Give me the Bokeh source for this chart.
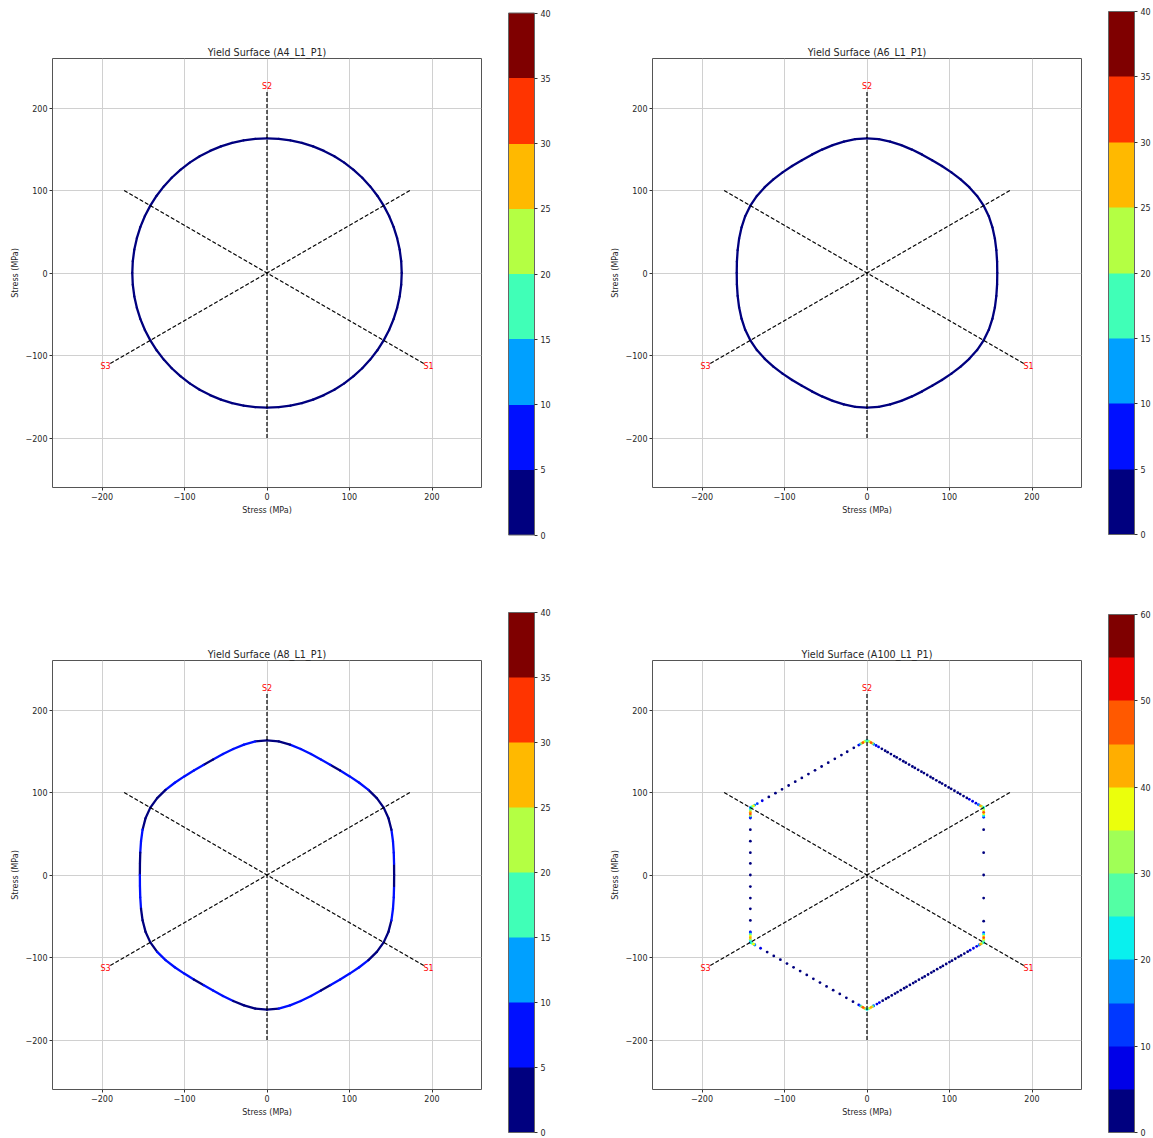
import numpy as np
from bokeh.plotting import figure
from bokeh.models import (Range1d, FixedTicker, ColumnDataSource, LinearColorMapper, ColorBar)
from bokeh.layouts import row, column
from bokeh.embed import file_html
from bokeh.resources import INLINE
from bokeh.core.properties import value
from bokeh.transform import transform

FONT = "DejaVu Sans"

# ---------------- data ----------------
titles = ["Yield Surface (A4_L1_P1)", "Yield Surface (A6_L1_P1)",
          "Yield Surface (A8_L1_P1)", "Yield Surface (A100_L1_P1)"]

axis_names = ["S1", "S2", "S3"]
axis_angle_deg = [-30, 90, 210]

# radius (MPa) of each surface versus angle from a flat (0 deg) to a vertex (30 deg)
sector_deg = [0, 5, 10, 15, 20, 25, 30]
r_a4 = [163.3, 163.3, 163.3, 163.3, 163.3, 163.3, 163.3]
r_a6 = [157.9, 158.3, 159.2, 160.5, 161.8, 162.9, 163.3]
r_a8 = [154.1, 154.6, 156.0, 158.1, 160.5, 162.5, 163.3]

# polar angles of the drawn curve (deg)
curve_deg = list(range(0, 365, 5))

# colour value of each 5-deg piece of the curve
val_a4 = [3] * 72
val_a6 = [3] * 72
val_a8 = [4, 6, 6, 6, 4, 4, 4, 4, 6, 6, 6, 4, 6, 6, 6, 6, 4, 4,
          4, 6, 6, 6, 6, 4, 6, 6, 6, 6, 4, 4, 4, 4, 6, 6, 4, 4,
          6, 6, 6, 4, 4, 4, 4, 6, 6, 6, 6, 4, 6, 6, 6, 4, 4, 4,
          4, 6, 6, 6, 6, 4, 6, 6, 6, 6, 4, 4, 4, 4, 6, 6, 6, 4]

# A100 scatter points (MPa) and their colour values
ul_x = [-10, -16, -24, -31, -39, -47, -55, -63, -71, -79, -87, -95, -103, -111, -119, -127, -133]
ul_y = [157.5, 154.1, 149.4, 145.4, 140.8, 136.2, 131.5, 126.9, 122.3, 117.7, 113.1, 108.5,
        103.8, 99.2, 94.6, 90.0, 86.5]
ul_v = [8, 4, 4, 4, 4, 4, 4, 4, 4, 4, 4, 4, 4, 4, 4, 7, 12]

ur_x = [8, 11, 14, 18, 22, 25, 29, 33, 36, 40, 44, 47, 51, 55, 58, 62, 66, 69, 73, 77, 80, 84,
        88, 91, 95, 99, 102, 106, 110, 113, 117, 121, 124, 128, 132, 135]
ur_y = [158.7, 157.0, 155.2, 152.9, 150.6, 148.9, 146.6, 144.2, 142.5, 140.2, 137.9, 136.2,
        133.9, 131.5, 129.8, 127.5, 125.2, 123.5, 121.2, 118.8, 117.1, 114.8, 112.5, 110.8,
        108.5, 106.1, 104.4, 102.1, 99.8, 98.1, 95.7, 93.4, 91.7, 89.4, 87.1, 85.3]
ur_v = [8, 7, 6, 4, 4, 4, 4, 4, 4, 4, 4, 4, 4, 4, 4, 4, 4, 4, 4, 4, 4, 4, 4, 4, 4, 4, 4, 4,
        4, 4, 4, 4, 6, 7, 9, 12]

rv_x = [141.4, 141.4, 141.4, 141.4, 141.4]
rv_y = [55, 27, 0, -28, -56]
rv_v = [4, 4, 4, 4, 4]

lv_x = [-141.4, -141.4, -141.4, -141.4, -141.4, -141.4, -141.4, -141.4, -141.4, -141.4, -141.4]
lv_y = [69, 55, 41, 27, 14, 0, -14, -28, -41, -55, -69]
lv_v = [8, 4, 4, 4, 4, 4, 4, 4, 4, 4, 8]

ll_x = [-136, -129, -121, -113, -105, -97, -89, -81, -73, -65, -57, -49, -41, -33, -25, -17, -10]
ll_y = [-84.8, -88.8, -93.4, -98.1, -102.7, -107.3, -111.9, -116.5, -121.1, -125.8, -130.4,
        -135.0, -139.6, -144.2, -148.9, -153.5, -157.5]
ll_v = [12, 7, 4, 4, 4, 4, 4, 4, 4, 4, 4, 4, 4, 4, 4, 4, 8]

lr_x = [8, 12, 15, 19, 23, 26, 30, 34, 37, 41, 45, 48, 52, 56, 59, 63, 67, 70, 74, 78, 81, 85,
        89, 92, 96, 100, 103, 107, 111, 114, 118, 122, 125, 129, 133, 136]
lr_y = [-158.7, -156.4, -154.6, -152.3, -150.0, -148.3, -146.0, -143.7, -141.9, -139.6, -137.3,
        -135.6, -133.3, -131.0, -129.2, -126.9, -124.6, -122.9, -120.6, -118.3, -116.5, -114.2,
        -111.9, -110.2, -107.9, -105.6, -103.8, -101.5, -99.2, -97.5, -95.2, -92.9, -91.1,
        -88.8, -86.5, -84.8]
lr_v = [8, 7, 6, 4, 4, 4, 4, 4, 4, 4, 4, 4, 4, 4, 4, 4, 4, 4, 4, 4, 4, 4, 4, 4, 4, 4, 4, 4,
        4, 4, 4, 4, 6, 7, 9, 12]

# points bunched around the six corners
cx = [-8, -6.5, -5, -3.5, -2, 0, 2, 3.5, 5, 6.5, 8,
      -8, -6.5, -5, -3.5, -2, 0, 2, 3.5, 5, 6.5, 8,
      136, 137.5, 139, 140.5, 141.4, 141.4, 141.4, 141.4, 141.4, 141.4, 141.4,
      136, 137.5, 139, 140.5, 141.4, 141.4, 141.4, 141.4, 141.4, 141.4, 141.4,
      -136, -137.5, -139, -140.5, -141.4, -141.4, -141.4, -141.4, -141.4, -141.4, -141.4,
      -136, -137.5, -139, -140.5, -141.4, -141.4, -141.4, -141.4, -141.4, -141.4, -141.4]
cy = [158.7, 159.5, 160.4, 161.3, 162.1, 163.0, 162.1, 161.3, 160.4, 159.5, 158.7,
      -158.7, -159.5, -160.4, -161.3, -162.1, -163.0, -162.1, -161.3, -160.4, -159.5, -158.7,
      84.8, 83.9, 83.0, 82.2, 81.6, 80, 78, 76, 74, 72, 70,
      -84.8, -83.9, -83.0, -82.2, -81.6, -80, -78, -76, -74, -72, -70,
      84.8, 83.9, 83.0, 82.2, 81.6, 80, 78, 76, 74, 72, 70,
      -84.8, -83.9, -83.0, -82.2, -81.6, -80, -78, -76, -74, -72, -70]
cv = [16, 32, 47, 38, 27, 22, 27, 38, 45, 30, 16,
      16, 34, 48, 40, 28, 22, 26, 36, 44, 30, 16,
      18, 42, 32, 22, 20, 25, 35, 45, 38, 24, 12,
      18, 42, 32, 22, 20, 25, 35, 45, 38, 24, 12,
      16, 37, 28, 20, 8, 22, 32, 40, 45, 30, 12,
      16, 38, 28, 20, 8, 22, 30, 42, 36, 26, 12]

ticks_40 = [0, 5, 10, 15, 20, 25, 30, 35, 40]
ticks_60 = [0, 10, 20, 30, 40, 50, 60]

jet8 = ["#00007f", "#0010ff", "#00a0ff", "#40ffb7", "#b4ff43", "#ffb900", "#ff3400", "#7f0000"]
jet12 = ["#00007f", "#0000e8", "#0038ff", "#0094ff", "#09f0ee", "#53ffa4",
         "#a0ff56", "#ebff0c", "#ffae00", "#ff5900", "#ed0400", "#7f0000"]

ticks_main = [-200, -100, 0, 100, 200]
tick_text = {-200: "\u2212200", -100: "\u2212100", 0: "0", 100: "100", 200: "200"}

TXT = "#262626"


def make_main(title, rb, tb, bb):
    p = figure(frame_width=429, frame_height=429,
               x_range=Range1d(-260, 260), y_range=Range1d(-260, 260),
               output_backend="svg", toolbar_location=None, tools="",
               min_border_left=52, min_border_right=rb, min_border_top=tb, min_border_bottom=bb,
               title=title)
    p.title.text_font = FONT
    p.title.text_font_size = "9.6px"
    p.title.text_font_style = "normal"
    p.title.text_color = TXT
    p.title.align = "center"
    p.title.standoff = 2
    for ax in (p.xaxis[0], p.yaxis[0]):
        ax.ticker = FixedTicker(ticks=ticks_main)
        ax.major_label_overrides = tick_text
        ax.axis_label = "Stress (MPa)"
        ax.axis_label_text_font = FONT
        ax.axis_label_text_font_size = "8px"
        ax.axis_label_text_font_style = "normal"
        ax.axis_label_text_color = TXT
        ax.axis_label_standoff = 3
        ax.major_label_text_font = FONT
        ax.major_label_text_font_size = "8px"
        ax.major_label_text_color = TXT
        ax.major_label_standoff = 2
        ax.major_tick_out = 3
        ax.major_tick_in = 0
        ax.major_tick_line_color = "#333333"
        ax.minor_tick_line_color = None
        ax.axis_line_color = None
    p.grid.grid_line_color = "#d0d0d0"
    p.grid.grid_line_width = 1
    p.outline_line_color = "#555555"
    p.outline_line_width = 1
    p.background_fill_color = "white"
    p.border_fill_color = "white"
    return p


def add_axes_overlay(p):
    ang = np.radians(axis_angle_deg)
    p.segment(x0=-200 * np.cos(ang), y0=-200 * np.sin(ang),
              x1=220 * np.cos(ang), y1=220 * np.sin(ang),
              line_color="black", line_width=1.2, line_dash="4 2")
    p.text(x=226 * np.cos(ang), y=226 * np.sin(ang), text=axis_names,
           text_color="red", text_font=value(FONT), text_font_size="8px",
           text_align="center", text_baseline="middle")


def add_curve(p, profile, vals, mapper):
    lookup = dict(zip(sector_deg, profile))
    deg = np.array(curve_deg)
    phi = np.mod(deg, 60)
    phi = np.where(phi > 30, 60 - phi, phi)
    r = np.array([lookup[int(f)] for f in phi])
    th = np.radians(deg)
    x = r * np.cos(th)
    y = r * np.sin(th)
    src = ColumnDataSource(dict(x0=x[:-1], y0=y[:-1], x1=x[1:], y1=y[1:], v=vals))
    p.segment(x0="x0", y0="y0", x1="x1", y1="y1", source=src,
              line_color=transform("v", mapper), line_width=2.3, line_cap="round")


def add_cbar(p, mapper, ticks, loc, h):
    cb = ColorBar(color_mapper=mapper, ticker=FixedTicker(ticks=ticks),
                  width=26, height=h, location=loc, orientation="vertical",
                  padding=0, margin=0,
                  bar_line_color="#666666", bar_line_width=1,
                  border_line_color=None, background_fill_color=None,
                  major_tick_out=3, major_tick_in=0, major_tick_line_color="#333333",
                  minor_tick_line_color=None, label_standoff=3,
                  major_label_text_font=FONT, major_label_text_font_size="8px",
                  major_label_text_color=TXT)
    p.add_layout(cb, "center")


m40 = LinearColorMapper(palette=jet8, low=0, high=40)
m60 = LinearColorMapper(palette=jet12, low=0, high=60)

# top-left: A4
p1 = make_main(titles[0], 119, 58, 113)
add_curve(p1, r_a4, val_a4, m40)
add_axes_overlay(p1)
add_cbar(p1, m40, ticks_40, (456, -47.5), 522)

# top-right: A6
p2 = make_main(titles[1], 72, 58, 113)
add_curve(p2, r_a6, val_a6, m40)
add_axes_overlay(p2)
add_cbar(p2, m40, ticks_40, (456, -47), 523)

# bottom-left: A8
p3 = make_main(titles[2], 119, 60, 49)
add_curve(p3, r_a8, val_a8, m40)
add_axes_overlay(p3)
add_cbar(p3, m40, ticks_40, (456, -43), 520)

# bottom-right: A100 scatter
p4 = make_main(titles[3], 72, 60, 49)
ax_ = ul_x + ur_x + rv_x + lv_x + ll_x + lr_x + cx
ay_ = ul_y + ur_y + rv_y + lv_y + ll_y + lr_y + cy
av_ = ul_v + ur_v + rv_v + lv_v + ll_v + lr_v + cv
order = np.argsort(av_, kind="stable")
src4 = ColumnDataSource(dict(x=np.array(ax_)[order], y=np.array(ay_)[order], v=np.array(av_)[order]))
p4.scatter(x="x", y="y", source=src4, size=2.8, marker="circle",
           fill_color=transform("v", m60), line_color=None)
add_axes_overlay(p4)
add_cbar(p4, m60, ticks_60, (456, -43), 518)

layout = column(row(p1, p2), row(p3, p4))

open("out.html", "w").write(file_html(layout, INLINE))
